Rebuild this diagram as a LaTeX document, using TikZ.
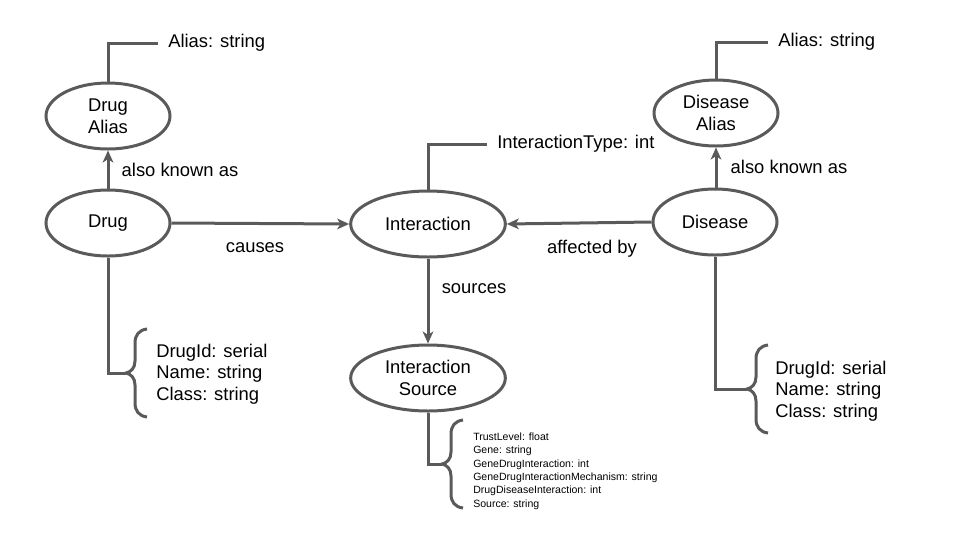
\documentclass[tikz,border=0pt]{standalone}
\usepackage{fontspec}
\setmainfont{Liberation Sans}
\usetikzlibrary{shapes.geometric,arrows.meta}
\definecolor{linegray}{HTML}{5A5A5A}
\tikzset{
  ent/.style={ellipse,draw=linegray,line width=2.25pt,inner sep=0pt,
    minimum width=93pt,minimum height=49.5pt,align=center,
    font=\fontsize{13.8}{16.2}\selectfont},
  wide/.style={minimum width=116pt},
  conn/.style={draw=linegray,line width=2.25pt},
  arr/.style={conn,-{Stealth[length=9pt,width=8pt,inset=2.5pt]}},
  lbl/.style={font=\fontsize{13.8}{16}\selectfont,inner sep=0pt},
  attr/.style={anchor=west,inner xsep=7.5pt,inner ysep=0pt,
    font=\fontsize{13.8}{16}\selectfont},
  attrs/.style={anchor=west,inner sep=0pt,align=left,
    font=\fontsize{13.8}{16.2}\selectfont},
  smallattrs/.style={anchor=west,inner sep=0pt,align=left,
    font=\fontsize{7.9}{10}\selectfont},
  attrbrace/.pic={\draw[draw=linegray,line width=2.25pt]
    (21,-44) .. controls (13,-43) and (9,-38) .. (9,-30) -- (9,-12)
    .. controls (9,-5) and (5,-1) .. (0,0)
    .. controls (5,1) and (9,5) .. (9,12) -- (9,30)
    .. controls (9,38) and (13,43) .. (21,44);}
}
\begin{document}
\begin{tikzpicture}[x=0.75pt,y=-0.75pt]
\useasboundingbox (0,0) rectangle (960,540);
% entities
\node[ent] (drugalias) at (108,116) {Drug\\Alias};
\node[ent] (drug) at (108,223) {Drug};
\node[ent,wide] (interaction) at (428,224) {Interaction};
\node[ent] (disease) at (715,222) {Disease};
\node[ent] (diseasealias) at (716,113) {Disease\\Alias};
\node[ent,wide] (source) at (428,378) {Interaction\\Source};
% simple attributes
\node[attr] (aliasA) at (158,43) {Alias: string};
\node[attr] (itype) at (487,144) {InteractionType: int};
\node[attr] (aliasB) at (768,42) {Alias: string};
\draw[conn] (drugalias.north) |- (aliasA.west);
\draw[conn] (interaction.north) |- (itype.west);
\draw[conn] (diseasealias.north) |- (aliasB.west);
% relations
\draw[arr] (drug.north) -- (drugalias.south);
\node[lbl] (akaA) at (180,170) {also known as};
\draw[arr] (diseasealias.south |- disease.north) -- (diseasealias.south);
\node[lbl] (akaB) at (789,167) {also known as};
\draw[arr] (drug.east) -- (interaction.west);
\node[lbl] (causes) at (255,248) {causes};
\draw[arr] (disease.west) -- (interaction.east);
\node[lbl] (affected) at (592,249) {affected by};
\draw[arr] (interaction.south) -- (source.north);
\node[lbl] (sources) at (474,289) {sources};
% attribute groups
\coordinate (tipA) at (126,373);
\coordinate (tipB) at (747,389);
\coordinate (tipC) at (442,464);
\pic at (tipA) {attrbrace};
\pic at (tipB) {attrbrace};
\pic at (tipC) {attrbrace};
\draw[conn] (drug.south) |- (tipA);
\draw[conn] (disease.south) |- (tipB);
\draw[conn] (source.south) |- (tipC);
\node[attrs] (drugattrs) at (156,374) {DrugId: serial\\Name: string\\Class: string};
\node[attrs] (disattrs) at (775,391) {DrugId: serial\\Name: string\\Class: string};
\node[smallattrs] (srcattrs) at (473,471) {TrustLevel: float\\Gene: string\\GeneDrugInteraction: int\\GeneDrugInteractionMechanism: string\\DrugDiseaseInteraction: int\\Source: string};
\end{tikzpicture}
\end{document}
